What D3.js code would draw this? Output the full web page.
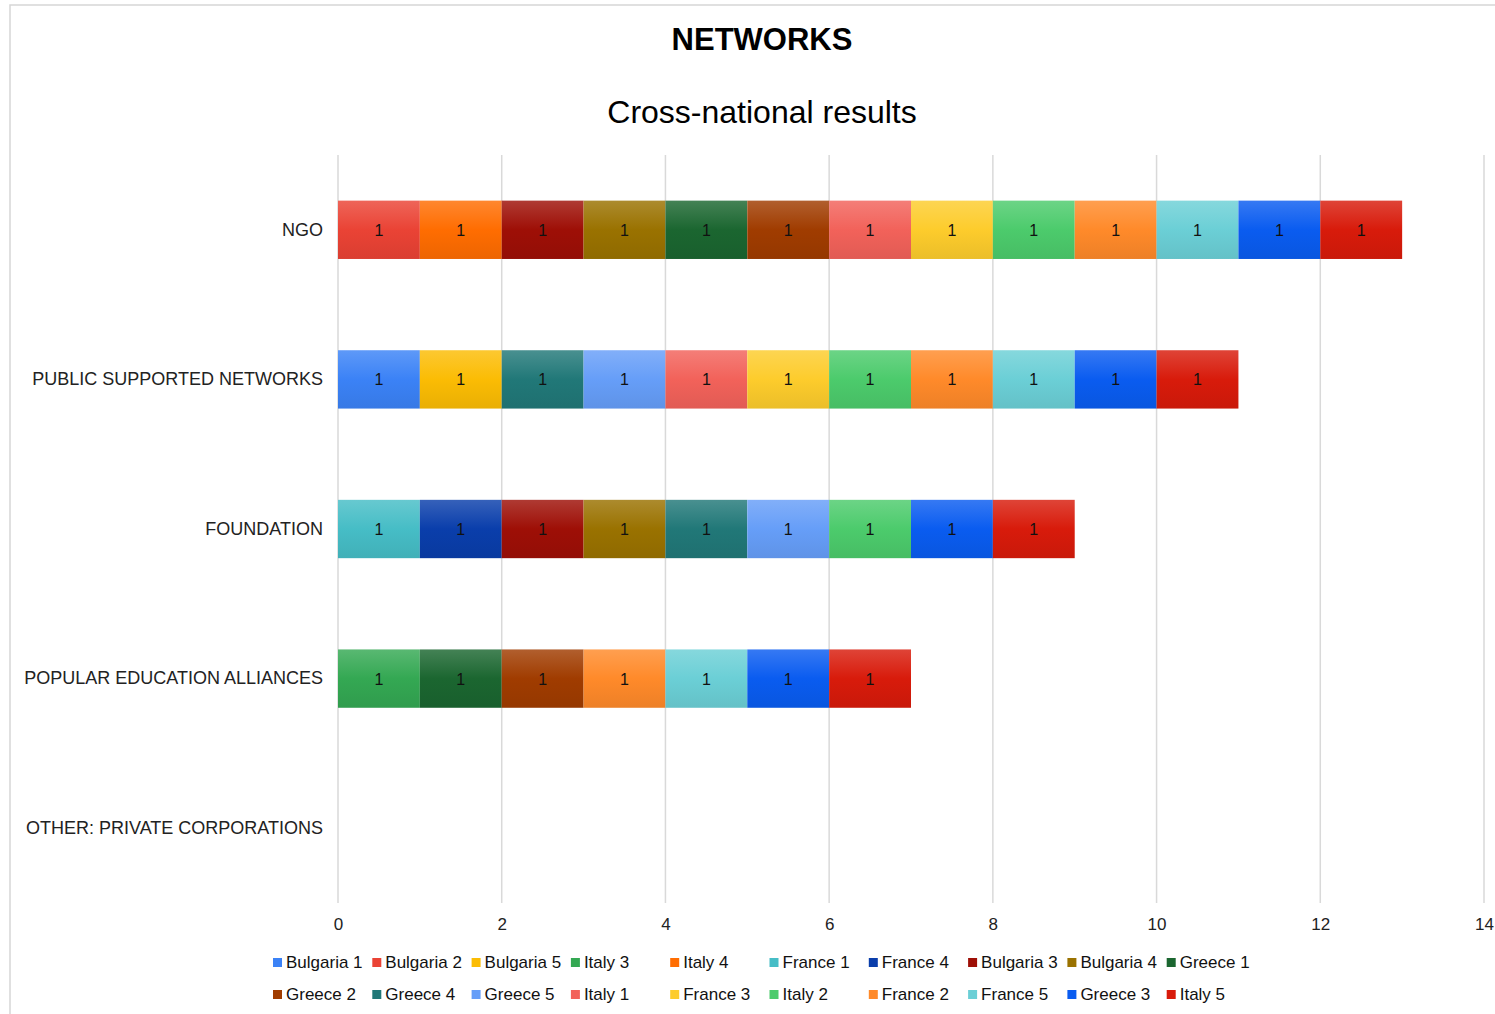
<!DOCTYPE html>
<html><head><meta charset="utf-8">
<script src="https://cdn.jsdelivr.net/npm/d3@7"></script>
<style>body{margin:0;background:#fff;font-family:Arial,"Liberation Sans",sans-serif;}</style>
</head><body><svg id="c" width="1495" height="1014"></svg>
<script>
const categories = ["NGO","PUBLIC SUPPORTED NETWORKS","FOUNDATION","POPULAR EDUCATION ALLIANCES","OTHER: PRIVATE CORPORATIONS"];
const seriesNames = ["Bulgaria 1","Bulgaria 2","Bulgaria 5","Italy 3","Italy 4","France 1","France 4","Bulgaria 3","Bulgaria 4","Greece 1","Greece 2","Greece 4","Greece 5","Italy 1","France 3","Italy 2","France 2","France 5","Greece 3","Italy 5"];
// values per series, in category order
const seriesValues = [
  [0,1,0,0,0],[1,0,0,0,0],[0,1,0,0,0],[0,0,0,1,0],[1,0,0,0,0],
  [0,0,1,0,0],[0,0,1,0,0],[1,0,1,0,0],[1,0,1,0,0],[1,0,0,1,0],
  [1,0,0,1,0],[0,1,1,0,0],[0,1,1,0,0],[1,1,0,0,0],[1,1,0,0,0],
  [1,1,1,0,0],[1,1,0,1,0],[1,1,0,1,0],[1,1,1,1,0],[1,1,1,1,0]
];
const seriesColors = ["#3b82f6","#ea4335","#fbbc04","#34a853","#ff6d01","#46bdc6","#0a3eab","#9e0f06","#9a7200","#1b6630","#a03c00","#217878","#669ef8","#f2625a","#fdcc2c","#4ccb6c","#ff8a2a","#6bcfd6","#0a5cf0","#d81b0b"];
const xTicks = [0,2,4,6,8,10,12,14];

const svg = d3.select("#c");
const W = 1495, H = 1014;
const m = {left:338, right:1484, top:155, bottom:903};

// border
svg.append("rect").attr("x",10).attr("y",5).attr("width",W).attr("height",H)
  .attr("fill","none").attr("stroke","#d6d6d6").attr("stroke-width",1.5);

svg.append("text").attr("x",762).attr("y",50).attr("text-anchor","middle")
  .attr("font-size",31).attr("font-weight","bold").attr("fill","#000").text("NETWORKS");
svg.append("text").attr("x",762).attr("y",123).attr("text-anchor","middle")
  .attr("font-size",32).attr("fill","#000").text("Cross-national results");

const x = d3.scaleLinear().domain([0,14]).range([m.left,m.right]);
const y = d3.scaleBand().domain(categories).range([m.top,m.bottom]).paddingInner(0.61).paddingOuter(0.305);

// gridlines
svg.append("g").selectAll("line").data(xTicks).join("line")
  .attr("x1",d=>x(d)).attr("x2",d=>x(d)).attr("y1",m.top).attr("y2",m.bottom)
  .attr("stroke","#d9d9d9").attr("stroke-width",1.5);

// x axis labels
const xAxis = d3.axisBottom(x).tickValues(xTicks).tickSize(0).tickPadding(0);
const gx = svg.append("g").attr("transform",`translate(0,${m.bottom+27})`).call(xAxis);
gx.select(".domain").remove();
gx.selectAll("text").attr("font-size",17).attr("fill","#222").attr("font-family","Arial,'Liberation Sans',sans-serif").attr("dy",0);

// y axis labels
const yAxis = d3.axisLeft(y).tickSize(0).tickPadding(15);
const gy = svg.append("g").attr("transform",`translate(${m.left},0)`).call(yAxis);
gy.select(".domain").remove();
gy.selectAll("text").attr("font-size",18).attr("fill","#222").attr("font-family","Arial,'Liberation Sans',sans-serif");

// gradients
const defs = svg.append("defs");
seriesColors.forEach((c,i)=>{
  const g = defs.append("linearGradient").attr("id","g"+i).attr("x1",0).attr("x2",0).attr("y1",0).attr("y2",1);
  g.append("stop").attr("offset","0%").attr("stop-color",d3.interpolateRgb(c,"#ffffff")(0.18));
  g.append("stop").attr("offset","50%").attr("stop-color",c);
  g.append("stop").attr("offset","100%").attr("stop-color",d3.interpolateRgb(c,"#000000")(0.07));
});

// stacked data
const table = categories.map((cat,ci)=>{
  const row = {cat};
  seriesNames.forEach((s,si)=>row[s]=seriesValues[si][ci]);
  return row;
});
const stack = d3.stack().keys(seriesNames)(table);

const layers = svg.append("g").selectAll("g").data(stack).join("g")
  .attr("fill",(d,i)=>`url(#g${i})`);
layers.selectAll("rect").data(d=>d.filter(p=>p[1]-p[0]>0)).join("rect")
  .attr("x",p=>x(p[0])).attr("width",p=>x(p[1])-x(p[0]))
  .attr("y",p=>y(p.data.cat)).attr("height",y.bandwidth());
layers.selectAll("text").data(d=>d.filter(p=>p[1]-p[0]>0)).join("text")
  .attr("x",p=>(x(p[0])+x(p[1]))/2).attr("y",p=>y(p.data.cat)+y.bandwidth()/2+6)
  .attr("text-anchor","middle").attr("font-size",16).attr("fill","#111")
  .text(p=>p[1]-p[0]);

// legend
const lg = svg.append("g");
const colW = 99.3, lx0 = 273, ly0 = 962, rowH = 32;
seriesNames.forEach((s,i)=>{
  const col = i%10, row = Math.floor(i/10);
  const gx0 = lx0 + col*colW, gy0 = ly0 + row*rowH;
  lg.append("rect").attr("x",gx0).attr("y",gy0-4).attr("width",9).attr("height",9).attr("fill",seriesColors[i]);
  lg.append("text").attr("x",gx0+13).attr("y",gy0+6).attr("font-size",17).attr("fill","#111").text(s);
});
</script></body></html>
